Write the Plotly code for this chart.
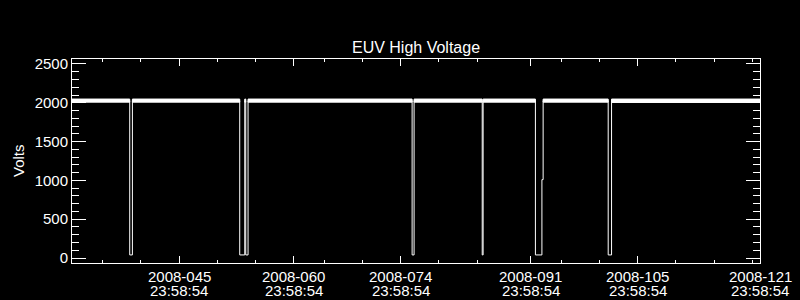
import pandas as pd
import plotly.graph_objects as go

# ---- data (day-of-year 2008, volts) ----
line_doy = [31.999, 39.55, 39.55, 39.90, 39.90, 53.94, 53.94, 54.60, 54.60, 54.73, 54.73,
            55.03, 55.03, 76.49, 76.49, 76.75, 76.75, 85.66, 85.66, 85.78, 85.78,
            92.62, 92.62, 93.47, 93.47, 93.63, 93.63, 102.14, 102.14, 102.58, 102.58, 121.999]
line_volts = [2028, 2028, 40, 40, 2028, 2028, 40, 40, 2028, 2028, 40,
              40, 2028, 2028, 40, 40, 2028, 2028, 40, 40, 2028,
              2028, 40, 40, 1010, 1010, 2028, 2028, 40, 40, 2028, 2028]

# min/max envelope of the densely sampled nominal voltage between the drop-outs
band_start = [31.999, 39.90, 54.60, 55.03, 76.75, 85.78, 93.63, 102.58]
band_end = [39.55, 53.94, 54.73, 76.49, 85.66, 92.62, 102.14, 121.999]
band_low = [2008, 2008, 2008, 2008, 2008, 2008, 2008, 2004]
band_high = [2048, 2048, 2048, 2048, 2048, 2048, 2048, 2048]

major_days = [45, 60, 74, 91, 105, 121]
minor_days = [35, 40, 50, 55, 64, 69, 79, 84, 95, 100, 110, 115, 120]
x_start_day, x_end_day = 31, 121
tick_time = "23:58:54"

y_range = [-64, 2564]


def doy_to_ts(d):
    return pd.Timestamp("2008-01-01") + pd.to_timedelta(d - 1, unit="D")


def day_tick(n):
    return pd.Timestamp("2008-01-01") + pd.to_timedelta(n - 1, unit="D") + pd.to_timedelta(tick_time)


fig = go.Figure()

# envelope band
bx, by = [], []
for s, e, lo, hi in zip(band_start, band_end, band_low, band_high):
    bx += [doy_to_ts(s), doy_to_ts(e), doy_to_ts(e), doy_to_ts(s), doy_to_ts(s), None]
    by += [lo, lo, hi, hi, lo, None]
fig.add_trace(go.Scatter(x=bx, y=by, mode="lines", fill="toself", fillcolor="white",
                         line=dict(color="white", width=1), hoverinfo="skip", showlegend=False))

fig.add_trace(go.Scatter(x=[doy_to_ts(d) for d in line_doy], y=line_volts, mode="lines",
                         line=dict(color="white", width=1), showlegend=False))

font = "Liberation Sans, Arial, sans-serif"

fig.update_layout(
    width=800, height=300,
    margin=dict(l=72, r=40, t=59, b=37),
    paper_bgcolor="black", plot_bgcolor="black",
    font=dict(family=font, color="white", size=15),
    title=dict(text="EUV High Voltage", x=416 / 800, xanchor="center",
               y=1 - 47.5 / 300, yanchor="middle", font=dict(size=16, color="white")),
    showlegend=False,
)

fig.update_xaxes(
    type="date",
    range=[day_tick(x_start_day), day_tick(x_end_day)],
    showline=True, linecolor="white", linewidth=1, mirror="allticks",
    showgrid=False, zeroline=False,
    tickmode="array", tickvals=[day_tick(n) for n in major_days], ticktext=["" for _ in major_days],
    ticks="inside", ticklen=7, tickwidth=1, tickcolor="white",
    minor=dict(tickmode="array", tickvals=[day_tick(n) for n in minor_days],
               ticks="inside", ticklen=3, tickwidth=1, tickcolor="white", showgrid=False),
)

fig.update_yaxes(
    range=y_range,
    showline=True, linecolor="white", linewidth=1, mirror="allticks",
    showgrid=False, zeroline=False,
    tickmode="linear", tick0=0, dtick=500,
    ticks="inside", ticklen=14, tickwidth=1, tickcolor="white",
    tickfont=dict(size=15, color="white"),
    minor=dict(tickmode="linear", tick0=0, dtick=100, ticks="inside", ticklen=7,
               tickwidth=1, tickcolor="white", showgrid=False),
)

# two-line date tick labels
for n in major_days:
    fig.add_annotation(x=day_tick(n), xref="x", y=0, yref="paper", yanchor="top",
                       yshift=-3, text="2008-%03d" % n, showarrow=False,
                       font=dict(size=15, color="white"))
    fig.add_annotation(x=day_tick(n), xref="x", y=0, yref="paper", yanchor="top",
                       yshift=-17, text=tick_time, showarrow=False,
                       font=dict(size=15, color="white"))

fig.add_annotation(x=(18 - 72) / 688, xref="paper", y=0.5, yref="paper",
                   text="Volts", textangle=-90, showarrow=False,
                   xanchor="center", yanchor="middle", font=dict(size=15, color="white"))

fig.write_html("out.html")
